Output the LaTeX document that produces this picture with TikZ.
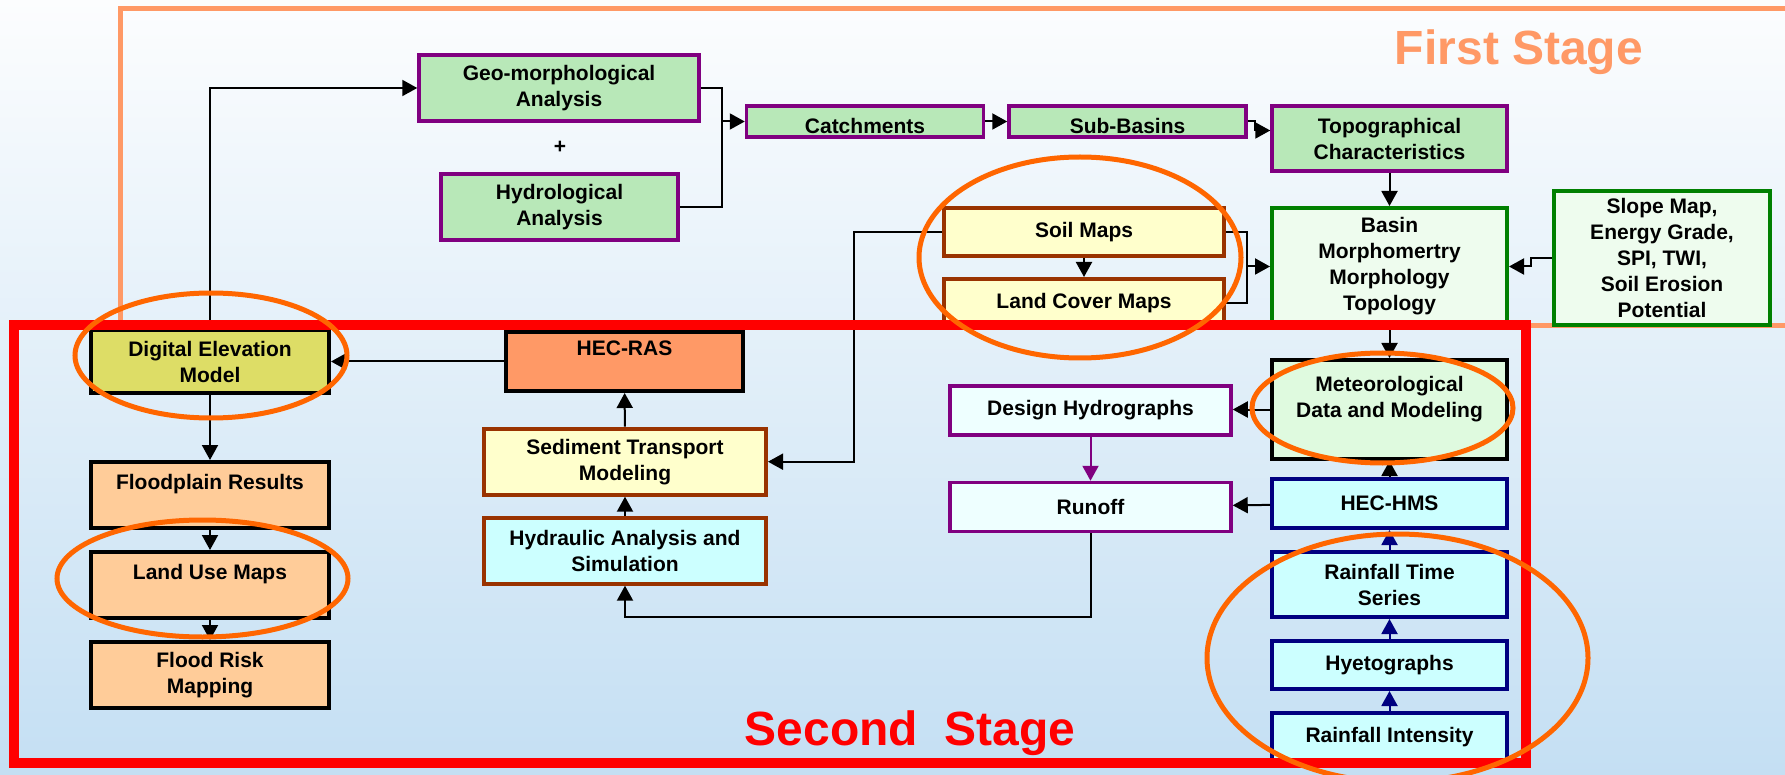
\documentclass[tikz,border=0pt]{standalone}
\usepackage{fontspec}
\setmainfont{Liberation Sans}
\usetikzlibrary{positioning, arrows.meta}
\definecolor{geogreen}{HTML}{B8E8B8}
\definecolor{purp}{HTML}{800080}
\definecolor{paleyellow}{HTML}{FFFFCC}
\definecolor{brownline}{HTML}{993300}
\definecolor{palegreen}{HTML}{EEFCEE}
\definecolor{darkgreen}{HTML}{008000}
\definecolor{meteogreen}{HTML}{DFFADF}
\definecolor{palecyan}{HTML}{EEFFFF}
\definecolor{cyanfill}{HTML}{CCFFFF}
\definecolor{navy}{HTML}{000080}
\definecolor{demyellow}{HTML}{DDDD66}
\definecolor{rasorange}{HTML}{FF9966}
\definecolor{peach}{HTML}{FFCC99}
\definecolor{ringorange}{HTML}{FF6600}
\definecolor{stageone}{HTML}{FF9966}
\definecolor{skytop}{HTML}{FCFDFE}
\definecolor{skymid}{HTML}{EBF3FA}
\definecolor{skylow}{HTML}{C4DFF3}
\newcommand{\boxfont}{\fontsize{21}{26}\selectfont\bfseries}
\newcommand{\stagefont}{\fontsize{48}{56}\selectfont\bfseries}

\begin{document}
\begin{tikzpicture}[
    x=1pt, y=-1pt,
    box/.style={rectangle, draw, line width=4pt, align=center,
                inner sep=2pt, font=\boxfont},
    geobox/.style={box, draw=purp, fill=geogreen, line width=3.5pt},
    soilbox/.style={box, draw=brownline, fill=paleyellow},
    basinbox/.style={box, draw=darkgreen, fill=palegreen},
    metbox/.style={box, draw=black, fill=meteogreen},
    flowbox/.style={box, draw=purp, fill=palecyan, line width=3.5pt},
    hmsbox/.style={box, draw=navy, fill=cyanfill},
    dembox/.style={box, draw=black, fill=demyellow},
    rasbox/.style={box, draw=black, fill=rasorange},
    mapbox/.style={box, draw=black, fill=peach},
    sedbox/.style={box, draw=brownline, fill=paleyellow},
    hydbox/.style={box, draw=brownline, fill=cyanfill},
    link/.style={line width=2pt},
    arrow/.style={link, -{Triangle[length=15pt, width=16pt]}},
    ring/.style={draw=ringorange, line width=5pt},
  ]
  \useasboundingbox (0,0) rectangle (1785,775);
  \clip (0,0) rectangle (1785,775);
  \fill[top color=skytop, middle color=skymid, bottom color=skylow] (0,0) rectangle (1785,775);

  % first stage frame
  \draw[stageone, line width=5pt] (120.5,8.5) rectangle (1800,326);
  \node[anchor=base, font=\stagefont, text=stageone] (first) at (1519,65) {First Stage};

  % first stage
  \node[geobox, minimum width=280pt, minimum height=66pt] (geo) at (559,88) {Geo-morphological\\Analysis};
  \node[font=\boxfont] (plus) at (560,147) {+};
  \node[geobox, minimum width=237pt, minimum height=66pt] (hydro) at (559.5,207) {Hydrological\\Analysis};
  \node[geobox, minimum width=237pt, minimum height=31pt, text height=25pt, text depth=0pt] (catch) at (865,121.5) {Catchments};
  \node[geobox, minimum width=237pt, minimum height=31pt, text height=25pt, text depth=0pt] (sub) at (1127.5,121.5) {Sub-Basins};
  \node[geobox, minimum width=235pt, minimum height=65pt] (topo) at (1389.5,138.5) {Topographical\\Characteristics};
  \node[soilbox, minimum width=280pt, minimum height=48pt] (soil) at (1084,232) {Soil Maps};
  \node[soilbox, minimum width=280pt, minimum height=48pt, below=19pt of soil] (cover) {Land Cover Maps};
  \node[basinbox, minimum width=235pt, minimum height=117pt] (basin) at (1389.5,266.5) {Basin\\Morphomertry\\Morphology\\Topology};
  \node[basinbox, minimum width=216pt, minimum height=134pt] (slope) at (1662,258) {Slope Map,\\Energy Grade,\\SPI, TWI,\\Soil Erosion\\Potential};

  % second stage
  \node[dembox, minimum width=238pt, minimum height=62pt] (dem) at (210,361.5) {Digital Elevation\\Model};
  \node[rasbox, minimum width=237pt, minimum height=59pt] (ras) at (624.5,361.5) {HEC-RAS\\\mbox{}};
  \node[mapbox, minimum width=238pt, minimum height=66pt] (plain) at (210,495) {Floodplain Results\\\mbox{}};
  \node[mapbox, minimum width=238pt, minimum height=66pt, below=20pt of plain] (landuse) {Land Use Maps\\\mbox{}};
  \node[mapbox, minimum width=238pt, minimum height=66pt, below=20pt of landuse] (risk) {Flood Risk\\Mapping};
  \node[sedbox, minimum width=282pt, minimum height=66pt] (sed) at (625,461.7) {Sediment Transport\\Modeling};
  \node[hydbox, minimum width=282pt, minimum height=66pt, below=19pt of sed] (hyd) {Hydraulic Analysis and\\Simulation};
  \node[metbox, minimum width=235pt, minimum height=99pt] (met) at (1389.5,409.5) {Meteorological\\Data and Modeling\\\mbox{}};
  \node[flowbox, minimum width=281pt, minimum height=49pt] (design) at (1090.5,410.5) {Design Hydrographs};
  \node[flowbox, minimum width=281pt, minimum height=49pt, below=44pt of design] (runoff) {Runoff};
  \node[hmsbox, minimum width=235pt, minimum height=49pt] (hms) at (1389.5,503.5) {HEC-HMS};
  \node[hmsbox, minimum width=235pt, minimum height=65pt, below=20pt of hms] (series) {Rainfall Time\\Series};
  \node[hmsbox, minimum width=235pt, minimum height=48pt, below=20pt of series] (hyeto) {Hyetographs};
  \node[hmsbox, minimum width=235pt, minimum height=49pt, below=20pt of hyeto] (intens) {Rainfall Intensity};

  \coordinate (geojoin) at (722,121.5);
  \coordinate (soiljoin) at (1247,266.5);

  \draw[arrow] (dem.north) |- (geo.west);
  \draw[link] (geo.east) -| (geojoin);
  \draw[link] (hydro.east) -| (geojoin);
  \draw[arrow] (geojoin) -- (catch.west);
  \draw[arrow] (catch) -- (sub);
  \draw[arrow] (sub.east) -- ++(7,0) |- ([yshift=8pt]topo.west);
  \draw[arrow] (topo) -- (basin);
  \draw[arrow] (slope.west) -- ++(-21,0) |- (basin.east);
  \draw[arrow] (soil) -- (cover);
  \draw[link] (soil.east) -| (soiljoin);
  \draw[link] (cover.east) -| (soiljoin);
  \draw[arrow] (soiljoin) -- (basin.west);
  \draw[arrow] (soil.west) -- ++(-88,0) |- (sed.east);
  \draw[arrow] (ras) -- (dem);
  \draw[arrow] (sed) -- (ras);
  \draw[arrow] (hyd) -- (sed);
  \draw[arrow] (runoff.south) -- ++(0,84) -| (hyd.south);
  \draw[arrow] (basin) -- (met);
  \draw[arrow] (met.west) -- (met.west -| design.east);
  \draw[arrow, purp] (design) -- (runoff);
  \draw[arrow] (hms) -- (runoff);
  \draw[arrow] (hms) -- (met);
  \draw[arrow, navy] (series) -- (hms);
  \draw[arrow, navy] (hyeto) -- (series);
  \draw[arrow, navy] (intens) -- (hyeto);
  \draw[arrow] (dem) -- (plain);
  \draw[arrow] (plain) -- (landuse);
  \draw[arrow] (landuse) -- (risk);

  % second stage frame
  \draw[red, line width=10pt] (14,325.5) rectangle (1526,763);
  \node[anchor=base, font=\stagefont, text=red] (second) at (910,745) {Second\ \ Stage};

  % highlights
  \draw[ring] (211,355.5) ellipse [x radius=136, y radius=62.5];
  \draw[ring] (1080,257.5) ellipse [x radius=161, y radius=100.5];
  \draw[ring] (1382.5,408) ellipse [x radius=130.5, y radius=55];
  \draw[ring] (202.5,578.5) ellipse [x radius=145.5, y radius=58.5];
  \draw[ring] (1397.5,658) ellipse [x radius=190.5, y radius=124];
\end{tikzpicture}
\end{document}
